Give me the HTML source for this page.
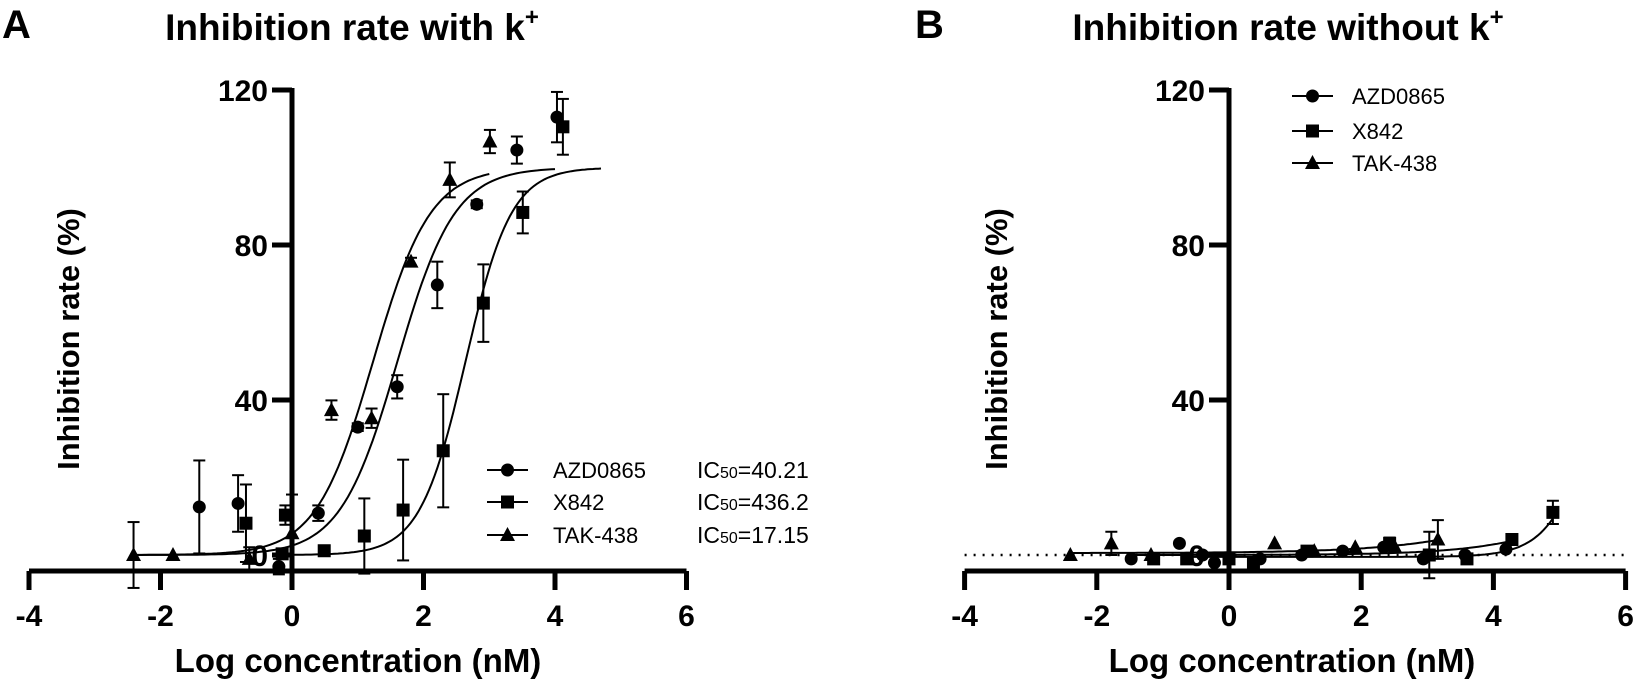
<!DOCTYPE html>
<html><head><meta charset="utf-8"><style>
body{margin:0;background:#fff}
svg{display:block;font-family:"Liberation Sans",Arial,sans-serif}
</style></head><body>
<svg id="chart" width="1649" height="684" viewBox="0 0 1649 684"></svg>
<script>
// Panel A data
const aAzdX=[-1.41,-0.82,-0.2,0.4,1.0,1.6,2.21,2.81,3.42,4.03];
const aAzdY=[12.4,13.3,-3,10.8,33,43.4,69.7,90.5,104.5,113];
const aAzdE=[12,7.3,2,2,1,3,6,1,3.5,6.5];
const aXX=[-0.7,-0.1,-0.15,0.49,1.1,1.69,2.3,2.91,3.51,4.12];
const aXY=[8.2,10.3,0.3,1.1,4.9,11.6,26.9,65,88.4,110.5];
const aXE=[10,2.5,1,1,9.7,13,14.6,10,5.4,7.2];
const aTX=[-2.41,-1.81,-0.65,0,0.6,1.21,1.81,2.4,3.01];
const aTY=[0,0,-1,5.6,37.4,35.3,75.7,96.8,106.7];
const aTE=[8.5,0,3,10,2.5,2.5,1,4.5,3];
// Panel B data
const bAzdX=[-1.48,-0.75,-0.4,-0.22,0.47,1.1,1.72,2.34,2.94,3.57,4.19];
const bAzdY=[-1,3,0,-2,-1,0,1,2,-1,0,1.5];
const bAzdE=[0,0,0,0,0,0,0,0,0,0,0];
const bXX=[-1.14,-0.64,0,0.37,1.18,2.43,3.03,3.6,4.28,4.9];
const bXY=[-1,-1,-1,-2,1,3,0,-1,4,11];
const bXE=[0,0,0,0,0,1.5,6,1,0,3];
const bTX=[-2.4,-1.78,-1.18,0.69,1.29,1.91,2.51,3.16];
const bTY=[0,3,0,3,1,2,2,4];
const bTE=[0,3,0,0,0,0,0,5];
const xTicks=[-4,-2,0,2,4,6];
const yTicks=[0,40,80,120];
// Fit params: [bottom, top, logIC50, hill, xmin, xmax]
const fitA={azd:[0,100,1.604,1,-2.4,4.0],x842:[0,100,2.64,1.25,-0.2,4.7],tak:[0,100,1.234,1,-2.4,3.0]};
const fitB={azd:[0,30,6,0.5,-1.5,4.2],x842:[-0.5,100,5.7,1.2,-0.7,4.9],tak:[0.5,50,6,0.4,-2.4,3.16]};

const NS="http://www.w3.org/2000/svg";
const svg=document.getElementById('chart');
function el(tag,attrs,parent,text){const e=document.createElementNS(NS,tag);for(const k in attrs)e.setAttribute(k,attrs[k]);if(text!==undefined)e.textContent=text;(parent||svg).appendChild(e);return e;}

function panel(cfg){
  const g=el('g',{});
  
  
  const sx=v=>cfg.x0+v*cfg.ux, sy=v=>555-v*3.875;
  const xa=el('line',{x1:sx(-4),x2:sx(6),y1:571,y2:571,stroke:'#000','stroke-width':5},g);
  
  const ya=el('line',{x1:sx(0),x2:sx(0),y1:88,y2:573,stroke:'#000','stroke-width':5},g);
  
  xTicks.forEach(t=>{
    el('line',{x1:sx(t),x2:sx(t),y1:571,y2:590,stroke:'#000','stroke-width':5},g);
    const tl=el('text',{x:sx(t),y:626,'text-anchor':'middle','font-size':30,'font-weight':'bold'},g,String(t));
    
  });
  yTicks.forEach(t=>{
    el('line',{x1:sx(0)-20,x2:sx(0),y1:sy(t),y2:sy(t),stroke:'#000','stroke-width':5},g);
    const tl=el('text',{x:sx(0)-24,y:sy(t)+11,'text-anchor':'end','font-size':30,'font-weight':'bold'},g,String(t));
    
  });
  if(cfg.dotted){const d=el('line',{x1:sx(-4),x2:sx(6),y1:sy(0),y2:sy(0),stroke:'#000','stroke-width':2.5,'stroke-dasharray':'2 7'},g);
    }
  for(const key of ['azd','x842','tak']){
    const p=cfg.fit[key];let pts=[];
    for(let i=0;i<=120;i++){const x=p[4]+(p[5]-p[4])*i/120;const y=p[0]+(p[1]-p[0])/(1+Math.pow(10,(p[2]-x)*p[3]));pts.push(sx(x).toFixed(1)+','+sy(y).toFixed(1));}
    const c=el('polyline',{points:pts.join(' '),fill:'none',stroke:'#000','stroke-width':2},g);
    
  }
  cfg.series.forEach(s=>{
    s.x.forEach((xv,i)=>{
      const X=sx(xv),Y=sy(s.y[i]),e=s.e[i];
      if(e>0){el('line',{x1:X,x2:X,y1:sy(s.y[i]+e),y2:sy(s.y[i]-e),stroke:'#000','stroke-width':2},g);
        el('line',{x1:X-6,x2:X+6,y1:sy(s.y[i]+e),y2:sy(s.y[i]+e),stroke:'#000','stroke-width':2},g);
        el('line',{x1:X-6,x2:X+6,y1:sy(s.y[i]-e),y2:sy(s.y[i]-e),stroke:'#000','stroke-width':2},g);}
      const m=marker(s.shape,X,Y,g);
      
      
    });
  });
}
function marker(shape,X,Y,g){
  if(shape==='c')return el('circle',{cx:X,cy:Y,r:6.5,fill:'#000'},g);
  if(shape==='s')return el('rect',{x:X-6.5,y:Y-6.5,width:13,height:13,fill:'#000'},g);
  return el('polygon',{points:`${X},${Y-8} ${X-7.5},${Y+6} ${X+7.5},${Y+6}`,fill:'#000'},g);
}
panel({name:'panel-a',x0:292,ux:65.75,fit:fitA,series:[
  {key:'azd0865',shape:'c',x:aAzdX,y:aAzdY,e:aAzdE},
  {key:'x842',shape:'s',x:aXX,y:aXY,e:aXE},
  {key:'tak438',shape:'t',x:aTX,y:aTY,e:aTE}]});
panel({name:'panel-b',x0:1229,ux:66.1,fit:fitB,dotted:true,series:[
  {key:'azd0865',shape:'c',x:bAzdX,y:bAzdY,e:bAzdE},
  {key:'x842',shape:'s',x:bXX,y:bXY,e:bXE},
  {key:'tak438',shape:'t',x:bTX,y:bTY,e:bTE}]});

function legend(name,lx,tx,ys,ic){
  const g=el('g',{});
  const names=['AZD0865','X842','TAK-438'],sh=['c','s','t'];
  ys.forEach((y,i)=>{
    el('line',{x1:lx,x2:lx+41,y1:y,y2:y,stroke:'#000','stroke-width':2},g);
    marker(sh[i],lx+20.5,y,g);
    const t=el('text',{x:tx,y:y+8,'font-size':22},g,names[i]);
    
    if(ic){const t2=el('text',{x:697,y:y+8,'font-size':23},g);
      
      el('tspan',{},t2,'IC');el('tspan',{'font-size':16},t2,'50');el('tspan',{},t2,'='+ic[i]);}
  });
}
legend('legend-a',487,553,[470,502,535],['40.21','436.2','17.15']);
legend('legend-b',1292,1352,[96,131,163],null);

function txt(name,attrs,content){const t=el('text',attrs,svg);t.innerHTML=content;return t;}
txt('panel-a-letter',{x:2,y:38,'font-size':40,'font-weight':'bold'},'A');
txt('panel-b-letter',{x:915,y:38,'font-size':40,'font-weight':'bold'},'B');
txt('panel-a-title',{x:352,y:40,'font-size':37,'font-weight':'bold','text-anchor':'middle'},'Inhibition rate with k<tspan font-size="24" dy="-15">+</tspan>');
txt('panel-b-title',{x:1288,y:40,'font-size':37,'font-weight':'bold','text-anchor':'middle'},'Inhibition rate without k<tspan font-size="24" dy="-15">+</tspan>');
txt('x-axis-title-a',{x:358,y:672,'font-size':33,'font-weight':'bold','text-anchor':'middle'},'Log concentration (nM)');
txt('x-axis-title-b',{x:1292,y:672,'font-size':33,'font-weight':'bold','text-anchor':'middle'},'Log concentration (nM)');
txt('y-axis-title-a',{x:0,y:0,'font-size':31,'font-weight':'bold','text-anchor':'middle',transform:'translate(79,339) rotate(-90)'},'Inhibition rate (%)');
txt('y-axis-title-b',{x:0,y:0,'font-size':31,'font-weight':'bold','text-anchor':'middle',transform:'translate(1007,339) rotate(-90)'},'Inhibition rate (%)');
</script>
</body></html>
